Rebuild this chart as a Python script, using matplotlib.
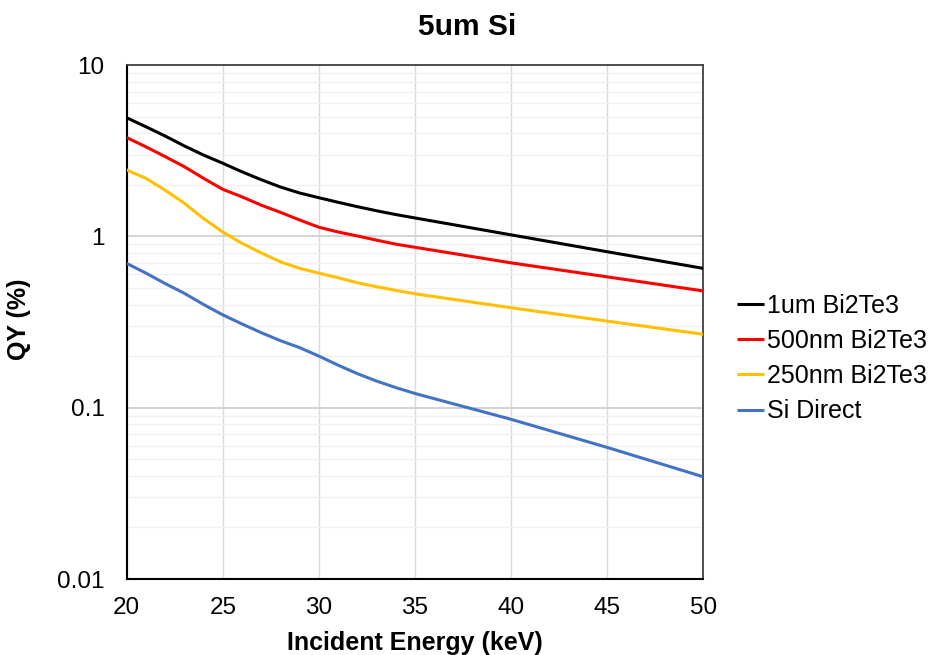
import numpy as np
import matplotlib
matplotlib.use('Agg')
import matplotlib.pyplot as plt
from matplotlib.ticker import LogLocator, FixedLocator, FixedFormatter, NullFormatter

# ── Data ──────────────────────────────────────────────────
ENERGY = [20, 21, 22, 23, 24, 25, 26, 27, 28, 29, 30,
          31, 32, 33, 34, 35, 40, 45, 50]

QY_1UM   = [4.92, 4.36, 3.85, 3.37, 2.98, 2.67, 2.38, 2.14, 1.94, 1.79,
            1.68, 1.58, 1.49, 1.41, 1.34, 1.28, 1.02, 0.813, 0.65]
QY_500NM = [3.77, 3.33, 2.92, 2.55, 2.18, 1.88, 1.70, 1.52, 1.38, 1.245,
            1.13, 1.06, 1.005, 0.95, 0.90, 0.863, 0.70, 0.58, 0.48]
QY_250NM = [2.44, 2.18, 1.86, 1.56, 1.27, 1.06, 0.91, 0.80, 0.71, 0.65,
            0.61, 0.573, 0.536, 0.508, 0.484, 0.462, 0.383, 0.32, 0.268]
QY_SI    = [0.695, 0.61, 0.53, 0.465, 0.40, 0.348, 0.308, 0.274, 0.246,
            0.224, 0.20, 0.177, 0.158, 0.143, 0.131, 0.121, 0.0855,
            0.0586, 0.0395]

LABELS = ['1um Bi2Te3', '500nm Bi2Te3', '250nm Bi2Te3', 'Si Direct']
COLORS = ['#000000', '#ff0000', '#ffc000', '#4472c4']

X_TICKS = [20, 25, 30, 35, 40, 45, 50]
Y_TICKS = [0.01, 0.1, 1, 10]
Y_TICK_LABELS = ['0.01', '0.1', '1', '10']

# ── Figure ────────────────────────────────────────────────
plt.rcParams['font.family'] = ['Liberation Sans', 'DejaVu Sans']

W, H = 929, 655
fig = plt.figure(figsize=(W / 100, H / 100), dpi=100)
ax = fig.add_axes([126.7 / W, 1 - 579 / H,
                   (703.3 - 126.7) / W, (579 - 65) / H])

series = [QY_1UM, QY_500NM, QY_250NM, QY_SI]
for vals, lab, col in zip(series, LABELS, COLORS):
    ax.plot(ENERGY, vals, color=col, linewidth=2.2, label=lab,
            solid_capstyle='butt', solid_joinstyle='round', zorder=3)

ax.set_yscale('log')
ax.set_xlim(20, 50)
ax.set_ylim(0.01, 10)

ax.xaxis.set_major_locator(FixedLocator(X_TICKS))
ax.yaxis.set_major_locator(FixedLocator(Y_TICKS))
ax.yaxis.set_major_formatter(FixedFormatter(Y_TICK_LABELS))
ax.yaxis.set_minor_locator(LogLocator(base=10, subs=np.arange(2, 10)))
ax.yaxis.set_minor_formatter(NullFormatter())

ax.grid(True, which='major', axis='x', color='#d9d9d9', linewidth=1.0)
ax.grid(True, which='major', axis='y', color='#d0d0d0', linewidth=1.3)
ax.grid(True, which='minor', axis='y', color='#f0f0f0', linewidth=1.0)
ax.set_axisbelow(True)

ax.tick_params(which='both', length=0)
ax.tick_params(axis='x', labelsize=17.5, pad=13)
ax.tick_params(axis='y', labelsize=17.5, pad=16)

for side in ['top', 'right']:
    ax.spines[side].set_color('#404040')
    ax.spines[side].set_linewidth(1.3)
for side in ['left', 'bottom']:
    ax.spines[side].set_color('#000000')
    ax.spines[side].set_linewidth(1.5)

# ── Titles / labels ───────────────────────────────────────
fig.text(467 / W, 1 - 27 / H, '5um Si', ha='center', va='center',
         fontsize=21.5, fontweight='bold')
fig.text(415 / W, 1 - 643 / H, 'Incident Energy (keV)', ha='center',
         va='center', fontsize=18, fontweight='bold')
fig.text(19 / W, 1 - 319 / H, 'QY (%)', ha='center', va='center',
         rotation=90, fontsize=18, fontweight='bold')

# ── Legend ────────────────────────────────────────────────
fig.legend(loc='center left', bbox_to_anchor=(737 / W, 1 - 358.5 / H),
           frameon=False, fontsize=18, handlelength=1.1,
           handletextpad=0.1, labelspacing=0.45, borderpad=0,
           borderaxespad=0)

fig.savefig('out.png', dpi=100)
